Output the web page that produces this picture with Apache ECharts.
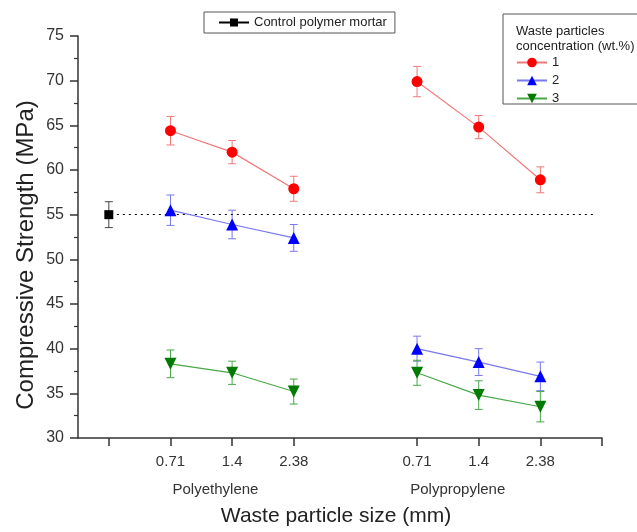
<!DOCTYPE html>
<html>
<head>
<meta charset="utf-8">
<script src="https://cdn.jsdelivr.net/npm/echarts@6/dist/echarts.min.js"></script>
<style>
  html, body { margin: 0; padding: 0; background: #fff; }
  #chart { width: 637px; height: 532px; }
</style>
</head>
<body>
<div id="chart"></div>
<script>
// Particle sizes shown under each polymer group
const sizeLabels = ['0.71', '1.4', '2.38']
const groupNames = ['Polyethylene', 'Polypropylene']
// x slots: control at 0, PE at 1..3, PP at 5..7
const controlPos = 0
const pePos = [1, 2, 3]
const ppPos = [5, 6, 7]
const groupLabelPos = [1.73, 5.66]

const controlValue = 55.0
const controlErr = 1.45

// Compressive strength (MPa), 1/2/3 wt.% waste
const pe1 = [64.4, 62.0, 57.9]
const pe1Err = [1.6, 1.3, 1.4]
const pp1 = [69.9, 64.8, 58.9]
const pp1Err = [1.7, 1.3, 1.45]

const pe2 = [55.5, 53.9, 52.4]
const pe2Err = [1.7, 1.6, 1.5]
const pp2 = [40.0, 38.5, 36.9]
const pp2Err = [1.4, 1.5, 1.6]

const pe3 = [38.3, 37.3, 35.2]
const pe3Err = [1.55, 1.3, 1.4]
const pp3 = [37.3, 34.8, 33.5]
const pp3Err = [1.4, 1.6, 1.7]

const FONT = '"Liberation Sans", Arial, sans-serif'

const colors = {
  '1': { marker: '#ff0000', line: '#f07878' },
  '2': { marker: '#0000ff', line: '#7878f0' },
  '3': { marker: '#007a00', line: '#48a848' }
}

const pts = (pos, vals) => pos.map((p, i) => [p, vals[i]])
const errPts = (pos, vals, errs) => pos.map((p, i) => [p, vals[i], errs[i]])

// Vertical error bar with caps, drawn through the axis scales
const errRender = color => (params, api) => {
  const x = api.value(0)
  const y = api.value(1)
  const e = api.value(2)
  const top = api.coord([x, y + e])
  const bot = api.coord([x, y - e])
  const hw = 4
  const style = { stroke: color, lineWidth: 1 }
  return {
    type: 'group',
    children: [
      { type: 'line', shape: { x1: top[0], y1: top[1], x2: bot[0], y2: bot[1] }, style },
      { type: 'line', shape: { x1: top[0] - hw, y1: top[1], x2: top[0] + hw, y2: top[1] }, style },
      { type: 'line', shape: { x1: bot[0] - hw, y1: bot[1], x2: bot[0] + hw, y2: bot[1] }, style }
    ]
  }
}

const lineSeries = (name, symbol, size, pos, vals) => ({
  name,
  type: 'line',
  data: pts(pos, vals),
  symbol,
  symbolSize: size,
  z: 5,
  itemStyle: { color: colors[name].marker },
  lineStyle: { color: colors[name].line, width: 1.2 }
})

const errSeries = (name, pos, vals, errs) => ({
  name,
  type: 'custom',
  data: errPts(pos, vals, errs),
  encode: { x: 0, y: 1 },
  z: 3,
  renderItem: errRender(colors[name].line)
})

const downTri = 'path://M0,0 L10,0 L5,9 Z'

const chart = echarts.init(document.getElementById('chart'))

const option = {
  backgroundColor: '#fff',
  animation: false,
  textStyle: { fontFamily: FONT },
  title: {
    text: 'Waste particles\nconcentration (wt.%)',
    left: 516,
    top: 24,
    padding: 0,
    textStyle: { fontFamily: FONT, fontSize: 13, fontWeight: 'normal', color: '#222', lineHeight: 15 }
  },
  legend: [
    {
      data: ['Control polymer mortar'],
      left: 204,
      top: 12,
      padding: [4, 8, 4, 14],
      borderColor: '#555',
      borderWidth: 1,
      itemWidth: 30,
      itemHeight: 10,
      textStyle: { fontFamily: FONT, fontSize: 13, color: '#222' }
    },
    {
      data: ['1', '2', '3'],
      orient: 'vertical',
      left: 516,
      top: 56,
      padding: 0,
      itemWidth: 30,
      itemHeight: 12,
      itemGap: 5,
      textStyle: { fontFamily: FONT, fontSize: 13, color: '#222' }
    }
  ],
  graphic: [
    {
      type: 'rect',
      shape: { x: 503, y: 14, width: 150, height: 90 },
      style: { fill: 'none', stroke: '#555', lineWidth: 1 },
      z: 10
    }
  ],
  grid: { left: 78, right: 35, top: 36, bottom: 92 },
  xAxis: [
    {
      type: 'value',
      min: -0.5,
      max: 8,
      name: 'Waste particle size (mm)',
      nameLocation: 'middle',
      nameGap: 68,
      nameMoveOverlap: false,
      nameTextStyle: { fontFamily: FONT, fontSize: 21, color: '#222', padding: [0, 8, 0, 0] },
      axisLine: { onZero: false, lineStyle: { color: '#333', width: 1.5 } },
      axisTick: {
        show: true,
        length: 8,
        customValues: [controlPos, ...pePos, ...ppPos, 8],
        lineStyle: { color: '#333', width: 1.5 }
      },
      axisLabel: {
        customValues: [...pePos, ...ppPos],
        margin: 16,
        fontFamily: FONT,
        fontSize: 15,
        color: '#333',
        formatter: v => {
          const i = pePos.indexOf(v) >= 0 ? pePos.indexOf(v) : ppPos.indexOf(v)
          return sizeLabels[i]
        }
      },
      splitLine: { show: false }
    },
    {
      type: 'value',
      position: 'bottom',
      min: -0.5,
      max: 8,
      axisLine: { show: false, onZero: false },
      axisTick: { show: false },
      axisLabel: {
        customValues: groupLabelPos,
        margin: 44,
        fontFamily: FONT,
        fontSize: 15,
        color: '#333',
        formatter: v => groupNames[groupLabelPos.indexOf(v)]
      },
      splitLine: { show: false }
    }
  ],
  yAxis: {
    type: 'value',
    min: 30,
    max: 75,
    interval: 5,
    name: 'Compressive Strength (MPa)',
    nameLocation: 'middle',
    nameGap: 40,
    nameMoveOverlap: false,
    nameTextStyle: { fontFamily: FONT, fontSize: 24, color: '#222', padding: [0, 36, 0, 0] },
    axisLine: { show: true, onZero: false, lineStyle: { color: '#333', width: 1.5 } },
    axisTick: { show: true, length: 8, lineStyle: { color: '#333', width: 1.5 } },
    minorTick: { show: true, splitNumber: 2, length: 4, lineStyle: { color: '#333', width: 1.2 } },
    axisLabel: { fontFamily: FONT, fontSize: 16, color: '#333', margin: 14 },
    splitLine: { show: false }
  },
  series: [
    {
      name: 'Control polymer mortar',
      type: 'line',
      data: [[controlPos, controlValue]],
      symbol: 'rect',
      symbolSize: 9,
      z: 5,
      itemStyle: { color: '#000' },
      lineStyle: { color: '#000', width: 1.2 },
      markLine: {
        silent: true,
        symbol: 'none',
        label: { show: false },
        lineStyle: { color: '#000', type: [2, 4], width: 1.2 },
        data: [[{ coord: [controlPos + 0.13, controlValue] }, { coord: [7.9, controlValue] }]]
      }
    },
    lineSeries('1', 'circle', 11, pePos, pe1),
    lineSeries('1', 'circle', 11, ppPos, pp1),
    lineSeries('2', 'triangle', 12, pePos, pe2),
    lineSeries('2', 'triangle', 12, ppPos, pp2),
    lineSeries('3', downTri, 12, pePos, pe3),
    lineSeries('3', downTri, 12, ppPos, pp3),
    {
      name: 'Control polymer mortar',
      type: 'custom',
      data: [[controlPos, controlValue, controlErr]],
      encode: { x: 0, y: 1 },
      z: 3,
      renderItem: errRender('#444')
    },
    errSeries('1', pePos, pe1, pe1Err),
    errSeries('1', ppPos, pp1, pp1Err),
    errSeries('2', pePos, pe2, pe2Err),
    errSeries('2', ppPos, pp2, pp2Err),
    errSeries('3', pePos, pe3, pe3Err),
    errSeries('3', ppPos, pp3, pp3Err)
  ]
}

chart.setOption(option)
</script>
</body>
</html>
